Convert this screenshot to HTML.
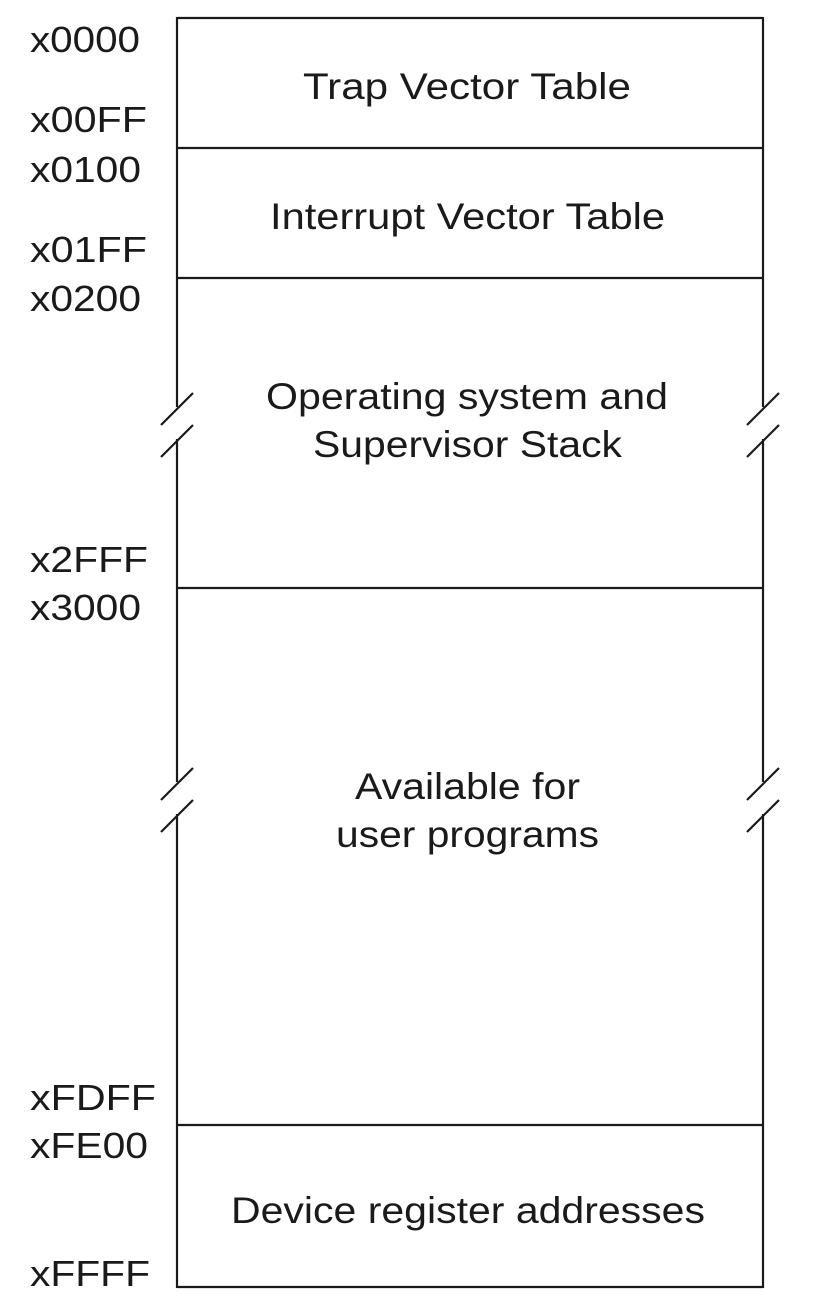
<!DOCTYPE html>
<html><head><meta charset="utf-8"><style>html,body{margin:0;padding:0;background:#fff}svg{display:block}</style></head>
<body>
<svg width="830" height="1314" viewBox="0 0 830 1314" xmlns="http://www.w3.org/2000/svg">
<g stroke="#1a1a1a" stroke-width="2.2" fill="none">
<line x1="177" y1="18" x2="763" y2="18"/>
<line x1="177" y1="148" x2="763" y2="148"/>
<line x1="177" y1="278" x2="763" y2="278"/>
<line x1="177" y1="588" x2="763" y2="588"/>
<line x1="177" y1="1125" x2="763" y2="1125"/>
<line x1="177" y1="1287" x2="763" y2="1287"/>
<line x1="177" y1="17" x2="177" y2="407"/>
<line x1="177" y1="439" x2="177" y2="782"/>
<line x1="177" y1="814" x2="177" y2="1288"/>
<line x1="763" y1="17" x2="763" y2="407"/>
<line x1="763" y1="439" x2="763" y2="782"/>
<line x1="763" y1="814" x2="763" y2="1288"/>
<line x1="161" y1="425" x2="193" y2="393"/>
<line x1="161" y1="457" x2="193" y2="425"/>
<line x1="747" y1="425" x2="779" y2="393"/>
<line x1="747" y1="457" x2="779" y2="425"/>
<line x1="161" y1="800" x2="193" y2="768"/>
<line x1="161" y1="832" x2="193" y2="800"/>
<line x1="747" y1="800" x2="779" y2="768"/>
<line x1="747" y1="832" x2="779" y2="800"/>
</g>
<g font-family="Liberation Sans, Arial, sans-serif" font-size="36" fill="#1a1a1a" lengthAdjust="spacingAndGlyphs">
<text x="30" y="52" textLength="110" lengthAdjust="spacingAndGlyphs">x0000</text>
<text x="30" y="132" textLength="117" lengthAdjust="spacingAndGlyphs">x00FF</text>
<text x="30" y="182" textLength="111" lengthAdjust="spacingAndGlyphs">x0100</text>
<text x="30" y="262" textLength="117" lengthAdjust="spacingAndGlyphs">x01FF</text>
<text x="30" y="311" textLength="111" lengthAdjust="spacingAndGlyphs">x0200</text>
<text x="30" y="572" textLength="118" lengthAdjust="spacingAndGlyphs">x2FFF</text>
<text x="30" y="620" textLength="111" lengthAdjust="spacingAndGlyphs">x3000</text>
<text x="30" y="1110" textLength="126" lengthAdjust="spacingAndGlyphs">xFDFF</text>
<text x="30" y="1158" textLength="118" lengthAdjust="spacingAndGlyphs">xFE00</text>
<text x="30" y="1286" textLength="120" lengthAdjust="spacingAndGlyphs">xFFFF</text>
</g>
<g font-family="Liberation Sans, Arial, sans-serif" font-size="37" fill="#1a1a1a">
<text x="303" y="99" textLength="328" lengthAdjust="spacingAndGlyphs">Trap Vector Table</text>
<text x="270" y="229" textLength="395" lengthAdjust="spacingAndGlyphs">Interrupt Vector Table</text>
<text x="266" y="409" textLength="402" lengthAdjust="spacingAndGlyphs">Operating system and</text>
<text x="313" y="457" textLength="309" lengthAdjust="spacingAndGlyphs">Supervisor Stack</text>
<text x="355" y="799" textLength="225" lengthAdjust="spacingAndGlyphs">Available for</text>
<text x="336" y="847" textLength="263" lengthAdjust="spacingAndGlyphs">user programs</text>
<text x="231" y="1223" textLength="474" lengthAdjust="spacingAndGlyphs">Device register addresses</text>
</g>
</svg>
</body></html>
